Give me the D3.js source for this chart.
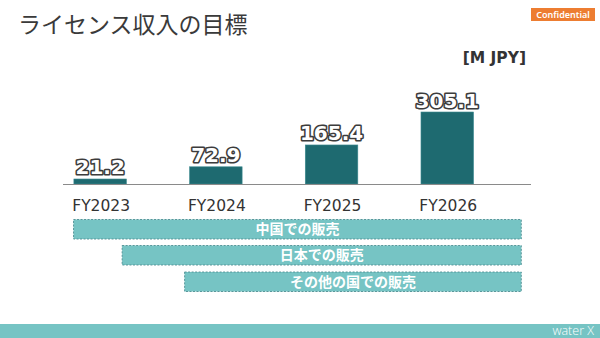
<!DOCTYPE html>
<html><head><meta charset="utf-8">
<script src="https://cdn.jsdelivr.net/npm/d3@7"></script>
<style>html,body{margin:0;padding:0;background:#fff;}svg{display:block;}</style>
</head><body><svg id="c" width="600" height="338"></svg>
<script>
const categories = ["FY2023", "FY2024", "FY2025", "FY2026"];
const revenue = [21.2, 72.9, 165.4, 305.1];
const salesLabels = ["中国での販売", "日本での販売", "その他の国での販売"];
const salesStart = [-0.23, 0.19, 0.73];   // in fiscal-year index units
const salesEnd = [3.64, 3.64, 3.64];
const titleText = "ライセンス収入の目標";
const unitText = "[M JPY]";

const svg = d3.select("#c");
const baseY = 184;

const x = d3.scaleBand().domain(categories).range([42.3, 505.1]).paddingInner(0.546).paddingOuter(0.273);
const xi = d3.scaleLinear().domain([0, 3]).range([x(categories[0]) + x.bandwidth()/2, x(categories[3]) + x.bandwidth()/2]);
const y = d3.scaleLinear().domain([0, 305.1]).range([baseY, 112]);

// title
svg.append("text").attr("x", 18).attr("y", 33).attr("font-family", "Noto Sans CJK JP").attr("font-size", 23)
  .attr("fill", "#3a3a3a").text(titleText);

// confidential
svg.append("rect").attr("x", 531).attr("y", 8).attr("width", 64).attr("height", 13).attr("fill", "#ED7D31");
svg.append("text").attr("x", 563).attr("y", 18).attr("text-anchor", "middle").attr("font-family", "Noto Sans")
  .attr("font-weight", 600).attr("font-size", 9).attr("fill", "#fff").text("Confidential");

// unit
svg.append("text").attr("x", 526).attr("y", 63).attr("text-anchor", "end").attr("font-family", "DejaVu Sans")
  .attr("font-weight", "bold").attr("font-size", 15.5).attr("fill", "#333").text(unitText);

// bars
svg.selectAll("rect.bar").data(revenue).join("rect").attr("class", "bar")
  .attr("x", (d, i) => x(categories[i])).attr("width", x.bandwidth())
  .attr("y", d => y(d)).attr("height", d => baseY - y(d))
  .attr("fill", "#1E6A70").attr("stroke", "#3d8a90").attr("stroke-width", 0.6);

// axis line
const ax = svg.append("g").attr("transform", `translate(0,${baseY})`)
  .call(d3.axisBottom(x).tickSize(0).tickPadding(0).tickFormat(""));
ax.select(".domain").attr("d", "M63,0.5H531").attr("stroke", "#8a8a8a").attr("stroke-width", 1.2);

// tick labels
svg.selectAll("text.tick").data(categories).join("text").attr("class", "tick")
  .attr("x", d => x(d) + x.bandwidth()/2 + 1).attr("y", 211).attr("text-anchor", "middle")
  .attr("font-family", "DejaVu Sans").attr("font-size", 15.5).attr("fill", "#333").text(d => d);

// value labels
svg.selectAll("text.val").data(revenue).join("text").attr("class", "val")
  .attr("x", (d, i) => x(categories[i]) + x.bandwidth()/2).attr("y", d => y(d) - 4.5)
  .attr("text-anchor", "middle").attr("font-family", "DejaVu Sans").attr("font-weight", "bold")
  .attr("font-size", 20).attr("fill", "#fff").attr("stroke", "#3c3c3c").attr("stroke-width", 3.2)
  .attr("paint-order", "stroke").attr("stroke-linejoin", "round").text(d => d.toFixed(1));

// sales region bars
const rowY = [219.5, 245.5, 272];
const rowH = 19.5;
salesLabels.forEach((lab, i) => {
  const x0 = xi(salesStart[i]), x1 = xi(salesEnd[i]);
  svg.append("rect").attr("x", x0).attr("y", rowY[i]).attr("width", x1 - x0).attr("height", rowH)
    .attr("fill", "#76C4C4").attr("stroke", "#4E8E93").attr("stroke-width", 0.9).attr("stroke-dasharray", "2,1.5");
  svg.append("text").attr("x", (x0 + x1)/2).attr("y", rowY[i] + 14.5).attr("text-anchor", "middle")
    .attr("font-family", "Noto Sans CJK JP").attr("font-weight", "bold").attr("font-size", 14)
    .attr("fill", "#fff").text(lab);
});

// footer
svg.append("rect").attr("x", 0).attr("y", 324).attr("width", 600).attr("height", 14).attr("fill", "#76C4C4");
svg.append("text").attr("x", 594).attr("y", 335).attr("text-anchor", "end").attr("font-family", "Open Sans")
  .attr("font-weight", 300).attr("font-size", 12.5).attr("fill", "#fff").text("water X");
</script></body></html>
